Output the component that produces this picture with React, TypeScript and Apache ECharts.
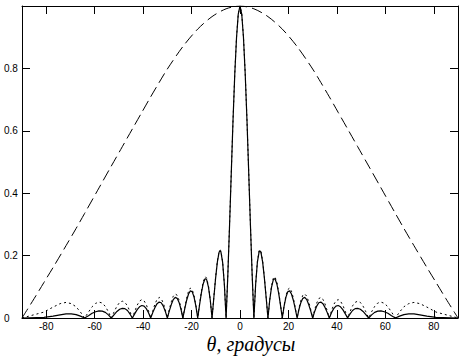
import React, { useEffect, useRef } from "react";
import * as echarts from "echarts";

// Angles (degrees, positive half; the pattern is symmetric about 0)
const thetaPos = [
  0, 0.72, 1.43, 2.15, 2.87, 3.58, 4.3, 5.02, 5.74,
  6.46, 7.18, 7.9, 8.22, 8.63, 9.35, 10.08, 10.81, 11.54,
  12.27, 13.0, 13.74, 14.2, 14.48, 15.22, 15.96, 16.71, 17.46,
  18.21, 18.97, 19.72, 20.49, 21.25, 22.02, 22.8, 23.58,
  24.36, 25.15, 25.94, 26.74, 27.55, 28.36, 29.18, 30.0,
  30.83, 31.67, 32.52, 33.37, 34.23, 35.1, 35.98, 36.87,
  37.77, 38.68, 39.61, 40.54, 41.49, 42.45, 43.43, 44.43,
  45.44, 46.47, 47.52, 48.59, 49.68, 50.81, 51.95, 53.13,
  54.34, 55.59, 56.88, 58.21, 59.6, 61.05, 62.56, 64.16,
  65.86, 67.67, 69.64, 71.81, 74.27, 77.16, 80.93, 90.0,
];

// Solid curve: total array pattern
const solidPos = [
  1.0, 0.974, 0.899, 0.783, 0.636, 0.47, 0.3, 0.139, 0,
  0.108, 0.179, 0.213, 0.215, 0.211, 0.179, 0.127, 0.064, 0,
  0.057, 0.098, 0.122, 0.126, 0.125, 0.109, 0.08, 0.041, 0,
  0.038, 0.067, 0.084, 0.087, 0.077, 0.057, 0.03, 0,
  0.028, 0.05, 0.063, 0.066, 0.059, 0.043, 0.023, 0,
  0.021, 0.038, 0.049, 0.051, 0.046, 0.034, 0.018, 0,
  0.017, 0.03, 0.038, 0.04, 0.036, 0.027, 0.014, 0,
  0.013, 0.024, 0.03, 0.031, 0.028, 0.021, 0.011, 0,
  0.01, 0.018, 0.022, 0.023, 0.02, 0.015, 0.007, 0,
  0.006, 0.011, 0.013, 0.013, 0.01, 0.006, 0.002, 0,
];

// Dotted curve: array factor
const dottedPos = [
  1.0, 0.975, 0.901, 0.785, 0.637, 0.471, 0.301, 0.14, 0,
  0.109, 0.181, 0.216, 0.218, 0.214, 0.183, 0.13, 0.066, 0,
  0.058, 0.102, 0.127, 0.132, 0.131, 0.115, 0.084, 0.044, 0,
  0.041, 0.072, 0.091, 0.096, 0.086, 0.064, 0.034, 0,
  0.032, 0.057, 0.073, 0.077, 0.07, 0.052, 0.028, 0,
  0.027, 0.048, 0.062, 0.066, 0.06, 0.045, 0.024, 0,
  0.023, 0.043, 0.055, 0.059, 0.054, 0.041, 0.022, 0,
  0.021, 0.039, 0.05, 0.054, 0.05, 0.038, 0.02, 0,
  0.02, 0.037, 0.048, 0.051, 0.047, 0.036, 0.019, 0,
  0.019, 0.036, 0.046, 0.05, 0.046, 0.035, 0.019, 0,
];

// Dashed curve: element pattern
const elemTheta = [
  0, 5.74, 11.54, 17.46, 23.58, 30.0, 33.37, 36.87, 40.54, 44.43,
  48.59, 53.13, 58.21, 64.16, 67.67, 71.81, 77.16, 80.93, 85.0, 90.0,
];
const elemGain = [
  1.0, 0.991, 0.966, 0.926, 0.87, 0.798, 0.755, 0.709, 0.659, 0.606,
  0.549, 0.487, 0.417, 0.335, 0.287, 0.232, 0.162, 0.114, 0.062, 0,
];

const xTickValues = [-80, -60, -40, -20, 0, 20, 40, 60, 80];
const axisTitle = "θ, градусы";

const symmetric = (th: number[], v: number[]): [number, number][] => {
  const out: [number, number][] = [];
  for (let i = th.length - 1; i > 0; i--) out.push([-th[i], v[i]]);
  for (let i = 0; i < th.length; i++) out.push([th[i], v[i]]);
  return out;
};

export default function App() {
  const ref = useRef<HTMLDivElement>(null);
  useEffect(() => {
    if (!ref.current) return;
    const chart = echarts.init(ref.current, undefined, { renderer: "svg" });
    const lineAxis = { show: true, onZero: false, lineStyle: { color: "#000", width: 1 } };
    const tick = { show: true, inside: true, length: 8, lineStyle: { color: "#000", width: 1 } };
    const labelFont = {
      color: "#000",
      fontSize: 10,
      fontFamily: "Liberation Sans, Arial, sans-serif",
    };
    chart.setOption({
      animation: false,
      backgroundColor: "#fff",
      grid: { left: 22, right: 8, top: 6, bottom: 38, containLabel: false },
      xAxis: [
        {
          type: "value",
          min: -90,
          max: 90,
          position: "bottom",
          axisLine: lineAxis,
          axisTick: { ...tick, customValues: xTickValues },
          axisLabel: { ...labelFont, margin: 3, customValues: xTickValues },
          splitLine: { show: false },
        },
        {
          type: "value",
          min: -90,
          max: 90,
          position: "top",
          axisLine: lineAxis,
          axisTick: { ...tick, customValues: xTickValues },
          axisLabel: { show: false },
          splitLine: { show: false },
        },
      ],
      yAxis: [
        {
          type: "value",
          min: 0,
          max: 1,
          interval: 0.2,
          position: "left",
          axisLine: lineAxis,
          axisTick: tick,
          axisLabel: { ...labelFont, align: "left", margin: 18, showMaxLabel: false },
          splitLine: { show: false },
        },
        {
          type: "value",
          min: 0,
          max: 1,
          interval: 0.2,
          position: "right",
          axisLine: lineAxis,
          axisTick: tick,
          axisLabel: { show: false },
          splitLine: { show: false },
        },
      ],
      series: [
        {
          type: "line",
          data: symmetric(thetaPos, dottedPos),
          symbol: "none",
          lineStyle: { color: "#000", width: 1, type: [2, 3] },
          silent: true,
        },
        {
          type: "line",
          data: symmetric(elemTheta, elemGain),
          symbol: "none",
          smooth: 0.3,
          lineStyle: { color: "#000", width: 1, type: [11, 5] },
          silent: true,
        },
        {
          type: "line",
          data: symmetric(thetaPos, solidPos),
          symbol: "none",
          lineStyle: { color: "#000", width: 1.2, type: "solid" },
          silent: true,
        },
      ],
      graphic: [
        {
          type: "text",
          x: 251,
          y: 344,
          style: {
            text: axisTitle,
            font: "italic 20px 'Liberation Serif', 'Times New Roman', serif",
            fill: "#000",
            textAlign: "center",
            textVerticalAlign: "middle",
          },
        },
      ],
    });
    return () => chart.dispose();
  }, []);
  return (
    <div
      ref={ref}
      style={{ position: "fixed", left: 0, top: 0, width: 466, height: 356, background: "#fff" }}
    />
  );
}
